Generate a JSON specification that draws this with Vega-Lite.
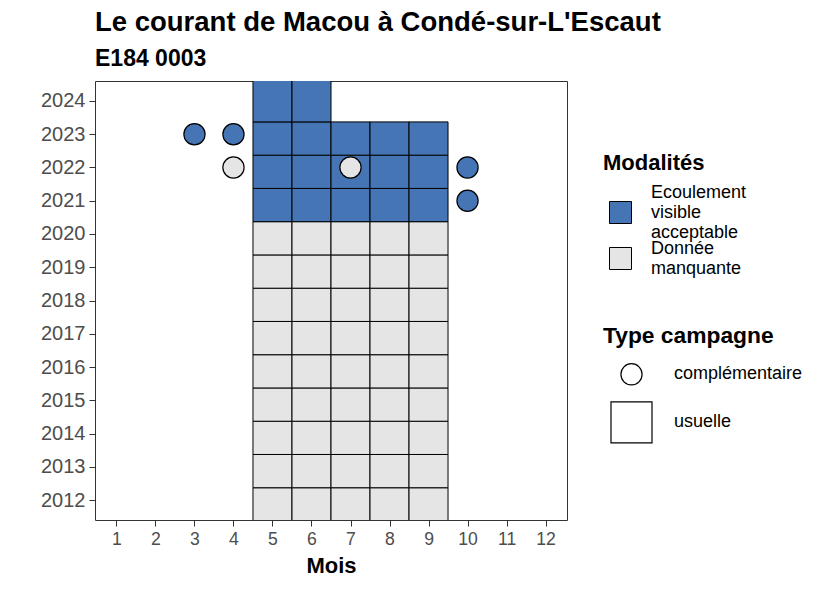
{
  "$schema": "https://vega.github.io/schema/vega-lite/v6.json",
  "width": 472,
  "height": 439,
  "autosize": {"type": "none"},
  "padding": {"left": 95, "top": 81, "right": 259, "bottom": 70},
  "background": "white",
  "title": {
    "text": "Le courant de Macou à Condé-sur-L'Escaut",
    "subtitle": "E184 0003",
    "anchor": "start",
    "frame": "group",
    "font": "Liberation Sans",
    "fontSize": 27.5,
    "fontWeight": "bold",
    "color": "black",
    "subtitleFont": "Liberation Sans",
    "subtitleFontSize": 23,
    "subtitleFontWeight": "bold",
    "subtitleColor": "black",
    "subtitlePadding": 12,
    "offset": 10
  },
  "config": {
    "view": {"stroke": "#333333", "strokeWidth": 1},
    "axis": {
      "domain": false,
      "grid": false,
      "tickColor": "#333333",
      "tickSize": 6,
      "tickWidth": 1,
      "labelColor": "#4D4D4D",
      "labelFont": "Liberation Sans",
      "labelFontSize": 17.6,
      "labelPadding": 4,
      "labelOverlap": false,
      "titleFont": "Liberation Sans",
      "titleFontSize": 22,
      "titleFontWeight": "bold",
      "titleColor": "black"
    },
    "legend": {
      "titleFont": "Liberation Sans",
      "titleFontSize": 22,
      "titleFontWeight": "bold",
      "titleColor": "black",
      "labelFont": "Liberation Sans",
      "labelFontSize": 18,
      "labelColor": "black",
      "padding": 0
    }
  },
  "data": {
    "values": [
      {"mois": 5, "annee": 2012, "modalite": "Donnée manquante", "type": "usuelle"},
      {"mois": 6, "annee": 2012, "modalite": "Donnée manquante", "type": "usuelle"},
      {"mois": 7, "annee": 2012, "modalite": "Donnée manquante", "type": "usuelle"},
      {"mois": 8, "annee": 2012, "modalite": "Donnée manquante", "type": "usuelle"},
      {"mois": 9, "annee": 2012, "modalite": "Donnée manquante", "type": "usuelle"},
      {"mois": 5, "annee": 2013, "modalite": "Donnée manquante", "type": "usuelle"},
      {"mois": 6, "annee": 2013, "modalite": "Donnée manquante", "type": "usuelle"},
      {"mois": 7, "annee": 2013, "modalite": "Donnée manquante", "type": "usuelle"},
      {"mois": 8, "annee": 2013, "modalite": "Donnée manquante", "type": "usuelle"},
      {"mois": 9, "annee": 2013, "modalite": "Donnée manquante", "type": "usuelle"},
      {"mois": 5, "annee": 2014, "modalite": "Donnée manquante", "type": "usuelle"},
      {"mois": 6, "annee": 2014, "modalite": "Donnée manquante", "type": "usuelle"},
      {"mois": 7, "annee": 2014, "modalite": "Donnée manquante", "type": "usuelle"},
      {"mois": 8, "annee": 2014, "modalite": "Donnée manquante", "type": "usuelle"},
      {"mois": 9, "annee": 2014, "modalite": "Donnée manquante", "type": "usuelle"},
      {"mois": 5, "annee": 2015, "modalite": "Donnée manquante", "type": "usuelle"},
      {"mois": 6, "annee": 2015, "modalite": "Donnée manquante", "type": "usuelle"},
      {"mois": 7, "annee": 2015, "modalite": "Donnée manquante", "type": "usuelle"},
      {"mois": 8, "annee": 2015, "modalite": "Donnée manquante", "type": "usuelle"},
      {"mois": 9, "annee": 2015, "modalite": "Donnée manquante", "type": "usuelle"},
      {"mois": 5, "annee": 2016, "modalite": "Donnée manquante", "type": "usuelle"},
      {"mois": 6, "annee": 2016, "modalite": "Donnée manquante", "type": "usuelle"},
      {"mois": 7, "annee": 2016, "modalite": "Donnée manquante", "type": "usuelle"},
      {"mois": 8, "annee": 2016, "modalite": "Donnée manquante", "type": "usuelle"},
      {"mois": 9, "annee": 2016, "modalite": "Donnée manquante", "type": "usuelle"},
      {"mois": 5, "annee": 2017, "modalite": "Donnée manquante", "type": "usuelle"},
      {"mois": 6, "annee": 2017, "modalite": "Donnée manquante", "type": "usuelle"},
      {"mois": 7, "annee": 2017, "modalite": "Donnée manquante", "type": "usuelle"},
      {"mois": 8, "annee": 2017, "modalite": "Donnée manquante", "type": "usuelle"},
      {"mois": 9, "annee": 2017, "modalite": "Donnée manquante", "type": "usuelle"},
      {"mois": 5, "annee": 2018, "modalite": "Donnée manquante", "type": "usuelle"},
      {"mois": 6, "annee": 2018, "modalite": "Donnée manquante", "type": "usuelle"},
      {"mois": 7, "annee": 2018, "modalite": "Donnée manquante", "type": "usuelle"},
      {"mois": 8, "annee": 2018, "modalite": "Donnée manquante", "type": "usuelle"},
      {"mois": 9, "annee": 2018, "modalite": "Donnée manquante", "type": "usuelle"},
      {"mois": 5, "annee": 2019, "modalite": "Donnée manquante", "type": "usuelle"},
      {"mois": 6, "annee": 2019, "modalite": "Donnée manquante", "type": "usuelle"},
      {"mois": 7, "annee": 2019, "modalite": "Donnée manquante", "type": "usuelle"},
      {"mois": 8, "annee": 2019, "modalite": "Donnée manquante", "type": "usuelle"},
      {"mois": 9, "annee": 2019, "modalite": "Donnée manquante", "type": "usuelle"},
      {"mois": 5, "annee": 2020, "modalite": "Donnée manquante", "type": "usuelle"},
      {"mois": 6, "annee": 2020, "modalite": "Donnée manquante", "type": "usuelle"},
      {"mois": 7, "annee": 2020, "modalite": "Donnée manquante", "type": "usuelle"},
      {"mois": 8, "annee": 2020, "modalite": "Donnée manquante", "type": "usuelle"},
      {"mois": 9, "annee": 2020, "modalite": "Donnée manquante", "type": "usuelle"},
      {"mois": 5, "annee": 2021, "modalite": "Ecoulement visible acceptable", "type": "usuelle"},
      {"mois": 6, "annee": 2021, "modalite": "Ecoulement visible acceptable", "type": "usuelle"},
      {"mois": 7, "annee": 2021, "modalite": "Ecoulement visible acceptable", "type": "usuelle"},
      {"mois": 8, "annee": 2021, "modalite": "Ecoulement visible acceptable", "type": "usuelle"},
      {"mois": 9, "annee": 2021, "modalite": "Ecoulement visible acceptable", "type": "usuelle"},
      {"mois": 5, "annee": 2022, "modalite": "Ecoulement visible acceptable", "type": "usuelle"},
      {"mois": 6, "annee": 2022, "modalite": "Ecoulement visible acceptable", "type": "usuelle"},
      {"mois": 7, "annee": 2022, "modalite": "Ecoulement visible acceptable", "type": "usuelle"},
      {"mois": 8, "annee": 2022, "modalite": "Ecoulement visible acceptable", "type": "usuelle"},
      {"mois": 9, "annee": 2022, "modalite": "Ecoulement visible acceptable", "type": "usuelle"},
      {"mois": 5, "annee": 2023, "modalite": "Ecoulement visible acceptable", "type": "usuelle"},
      {"mois": 6, "annee": 2023, "modalite": "Ecoulement visible acceptable", "type": "usuelle"},
      {"mois": 7, "annee": 2023, "modalite": "Ecoulement visible acceptable", "type": "usuelle"},
      {"mois": 8, "annee": 2023, "modalite": "Ecoulement visible acceptable", "type": "usuelle"},
      {"mois": 9, "annee": 2023, "modalite": "Ecoulement visible acceptable", "type": "usuelle"},
      {"mois": 5, "annee": 2024, "modalite": "Ecoulement visible acceptable", "type": "usuelle"},
      {"mois": 6, "annee": 2024, "modalite": "Ecoulement visible acceptable", "type": "usuelle"},
      {"mois": 3, "annee": 2023, "modalite": "Ecoulement visible acceptable", "type": "complémentaire"},
      {"mois": 4, "annee": 2023, "modalite": "Ecoulement visible acceptable", "type": "complémentaire"},
      {"mois": 4, "annee": 2022, "modalite": "Donnée manquante", "type": "complémentaire"},
      {"mois": 7, "annee": 2022, "modalite": "Donnée manquante", "type": "complémentaire"},
      {"mois": 10, "annee": 2022, "modalite": "Ecoulement visible acceptable", "type": "complémentaire"},
      {"mois": 10, "annee": 2021, "modalite": "Ecoulement visible acceptable", "type": "complémentaire"}
    ]
  },
  "layer": [
    {
      "transform": [
        {"filter": "datum.type == 'usuelle'"},
        {"calculate": "datum.mois - 0.5", "as": "x_debut"},
        {"calculate": "datum.mois + 0.5", "as": "x_fin"},
        {"calculate": "datum.annee - 0.63", "as": "y_bas"},
        {"calculate": "datum.annee + (datum.annee == 2024 ? 1 : 0.37)", "as": "y_haut"}
      ],
      "mark": {"type": "rect", "stroke": "black", "strokeWidth": 1, "clip": true},
      "encoding": {
        "x": {
          "field": "x_debut", "type": "quantitative",
          "scale": {"domain": [0.45, 12.55], "nice": false, "zero": false},
          "axis": {"values": [1, 2, 3, 4, 5, 6, 7, 8, 9, 10, 11, 12], "format": "d", "title": "Mois", "titlePadding": 8, "labelOverlap": false}
        },
        "x2": {"field": "x_fin"},
        "y": {
          "field": "y_bas", "type": "quantitative",
          "scale": {"domain": [2011.4, 2024.6], "nice": false, "zero": false},
          "axis": {"values": [2012, 2013, 2014, 2015, 2016, 2017, 2018, 2019, 2020, 2021, 2022, 2023, 2024], "format": "d", "title": null, "labelFontSize": 20, "labelOverlap": false}
        },
        "y2": {"field": "y_haut"},
        "fill": {
          "field": "modalite", "type": "nominal",
          "scale": {"domain": ["Ecoulement visible acceptable", "Donnée manquante"], "range": ["#4575B4", "#E5E5E5"]},
          "legend": {
            "title": "Modalités",
            "orient": "none",
            "legendX": 508,
            "legendY": 72,
            "symbolType": "square",
            "symbolSize": 484,
            "symbolStrokeColor": "black",
            "symbolStrokeWidth": 1,
            "symbolOffset": 6,
            "labelExpr": "split(datum.label, ' ')",
            "labelOffset": 19,
            "titlePadding": 26,
            "rowPadding": -3,
            "encode": {
              "labels": {
                "update": {
                  "dy": {"signal": "-(length(split(datum.label, ' ')) - 1) * 10"}
                }
              }
            }
          }
        }
      }
    },
    {
      "transform": [{"filter": "datum.type == 'complémentaire'"}],
      "mark": {"type": "point", "filled": true, "stroke": "black", "strokeWidth": 1.2, "opacity": 1},
      "encoding": {
        "x": {
          "field": "mois", "type": "quantitative",
          "axis": {"values": [1, 2, 3, 4, 5, 6, 7, 8, 9, 10, 11, 12], "format": "d", "title": "Mois", "titlePadding": 8, "labelOverlap": false}
        },
        "y": {
          "field": "annee", "type": "quantitative",
          "axis": {"values": [2012, 2013, 2014, 2015, 2016, 2017, 2018, 2019, 2020, 2021, 2022, 2023, 2024], "format": "d", "title": null, "labelFontSize": 20, "labelOverlap": false}
        },
        "fill": {"field": "modalite", "type": "nominal"},
        "shape": {
          "field": "type", "type": "nominal",
          "scale": {"domain": ["complémentaire", "usuelle"], "range": ["circle", "square"]},
          "legend": {
            "title": "Type campagne",
            "titleFontSize": 22.8,
            "orient": "none",
            "legendX": 508,
            "legendY": 244,
            "symbolFillColor": "white",
            "symbolStrokeColor": "black",
            "symbolStrokeWidth": 1.2,
            "symbolOffset": 7,
            "labelOffset": 21,
            "titlePadding": 15,
            "rowPadding": 11
          }
        },
        "size": {
          "field": "type", "type": "nominal",
          "scale": {"domain": ["complémentaire", "usuelle"], "range": [450, 1681]},
          "legend": {
            "title": "Type campagne",
            "titleFontSize": 22.8,
            "orient": "none",
            "legendX": 508,
            "legendY": 244,
            "symbolFillColor": "white",
            "symbolStrokeColor": "black",
            "symbolStrokeWidth": 1.2,
            "symbolOffset": 7,
            "labelOffset": 21,
            "titlePadding": 15,
            "rowPadding": 11
          }
        }
      }
    }
  ]
}
